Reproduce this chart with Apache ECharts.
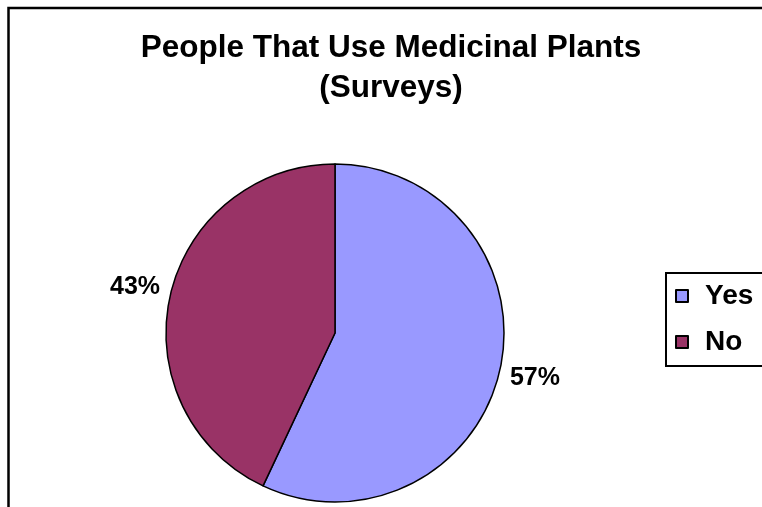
<!DOCTYPE html>
<html>
<head>
<meta charset="utf-8">
<script src="https://cdn.jsdelivr.net/npm/echarts@6/dist/echarts.min.js"></script>
<style>
  html, body { margin: 0; padding: 0; background: #fff; }
  #chart { width: 762px; height: 507px; }
</style>
</head>
<body>
<div id="chart"></div>
<script>
// survey answers, percent
const categories = ['Yes', 'No']
const shares = [57, 43]
const sliceColors = ['#9999FF', '#993366']

const chart = echarts.init(document.getElementById('chart'))

const option = {
  backgroundColor: '#fff',
  animation: false,
  title: {
    text: 'People That Use Medicinal Plants\n(Surveys)',
    left: 391,
    textAlign: 'center',
    top: 28,
    padding: 0,
    textStyle: {
      fontFamily: 'Liberation Sans, Arial, sans-serif',
      fontWeight: 'bold',
      fontSize: 31.5,
      lineHeight: 40,
      color: '#000',
    },
  },
  legend: {
    orient: 'vertical',
    left: 666,
    top: 273,
    padding: [8, 40, 9, 9],
    itemGap: 16,
    itemWidth: 12,
    itemHeight: 12,
    icon: 'rect',
    borderColor: '#000',
    borderWidth: 2,
    data: categories,
    itemStyle: { borderColor: '#000', borderWidth: 2 },
    textStyle: {
      fontFamily: 'Liberation Sans, Arial, sans-serif',
      fontWeight: 'bold',
      fontSize: 28,
      lineHeight: 30,
      color: '#000',
      padding: [0, 0, 0, 12],
    },
  },
  graphic: [
    {
      type: 'rect',
      shape: { x: 8.5, y: 8, width: 900, height: 900 },
      style: { fill: 'none', stroke: '#000', lineWidth: 2.5 },
      silent: true,
    },
  ],
  series: [
    {
      type: 'pie',
      center: [335, 333],
      radius: 169,
      startAngle: 90,
      clockwise: true,
      avoidLabelOverlap: false,
      itemStyle: { borderColor: '#000', borderWidth: 1.5 },
      emphasis: { disabled: true },
      label: {
        show: true,
        position: 'outside',
        formatter: '{c}%',
        fontFamily: 'Liberation Sans, Arial, sans-serif',
        fontWeight: 'bold',
        fontSize: 25,
        color: '#000',
        distanceToLabelLine: -29,
      },
      labelLine: { show: false, length: 40, length2: 0 },
      data: categories.map((name, i) => ({
        name: name,
        value: shares[i],
        itemStyle: { color: sliceColors[i] },
      })),
    },
  ],
}

chart.setOption(option)
</script>
</body>
</html>
